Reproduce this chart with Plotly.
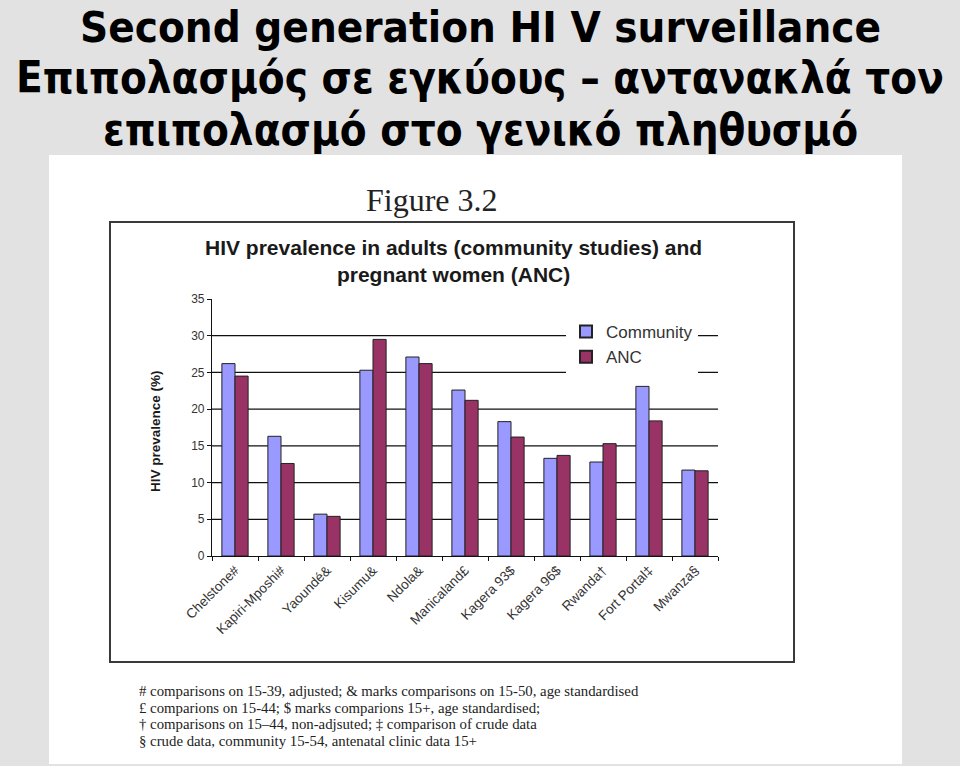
import plotly.graph_objects as go

# ---- data ----
sites = ["Chelstone#", "Kapiri-Mposhi#", "Yaoundé&", "Kisumu&", "Ndola&", "Manicaland£",
         "Kagera 93$", "Kagera 96$", "Rwanda†", "Fort Portal‡", "Mwanza§"]
community = [26.2, 16.3, 5.7, 25.3, 27.1, 22.6, 18.3, 13.3, 12.8, 23.1, 11.7]
anc = [24.5, 12.6, 5.4, 29.5, 26.2, 21.2, 16.2, 13.7, 15.3, 18.4, 11.6]
y_ticks = [0, 5, 10, 15, 20, 25, 30, 35]
grid_values = [5, 10, 15, 20, 25, 30]

W, H = 960, 766


def px(x):
    return x / W


def py(y):
    return 1 - y / H


fig = go.Figure()
fig.add_trace(go.Bar(name="Community", x=sites, y=community,
                     marker=dict(color="#9999FF", line=dict(color="#222222", width=1))))
fig.add_trace(go.Bar(name="ANC", x=sites, y=anc,
                     marker=dict(color="#993366", line=dict(color="#222222", width=1))))

shapes = [
    # white picture area
    dict(type="rect", xref="paper", yref="paper", x0=px(49), x1=px(902), y0=py(764), y1=py(155),
         fillcolor="white", line=dict(width=0), layer="below"),
    # chart frame
    dict(type="rect", xref="paper", yref="paper", x0=px(110), x1=px(794), y0=py(662), y1=py(222),
         fillcolor="rgba(0,0,0,0)", line=dict(color="#3a3a3a", width=2), layer="below"),
]
for g in grid_values:
    shapes.append(dict(type="line", xref="paper", yref="y", x0=px(212), x1=px(718), y0=g, y1=g,
                       line=dict(color="#111111", width=1.2), layer="below"))

annotations = []
title_lines = ["Second generation HI V surveillance",
               "Επιπολασμός σε εγκύους – αντανακλά τον",
               "επιπολασμό στο γενικό πληθυσμό"]
title_y = [27, 78, 130]
for t, yy in zip(title_lines, title_y):
    annotations.append(dict(text=t, xref="paper", yref="paper", x=0.5, y=py(yy),
                            xanchor="center", yanchor="middle", showarrow=False,
                            font=dict(family="DejaVu Sans Condensed, Liberation Sans Narrow, Liberation Sans",
                                      size=43.5, color="#000000", weight="bold")))
annotations.append(dict(text="Figure 3.2", xref="paper", yref="paper", x=px(432), y=py(200),
                        xanchor="center", yanchor="middle", showarrow=False,
                        font=dict(family="Liberation Serif, Times New Roman", size=32, color="#222222")))
annotations.append(dict(text="HIV prevalence in adults (community studies) and<br>pregnant women (ANC)",
                        xref="paper", yref="paper", x=px(453), y=py(261),
                        xanchor="center", yanchor="middle", showarrow=False,
                        font=dict(family="Liberation Sans, Arial", size=21, color="#1a1a1a", weight="bold")))
annotations.append(dict(text="HIV prevalence (%)", xref="paper", yref="paper", x=px(155), y=py(431),
                        xanchor="center", yanchor="middle", showarrow=False, textangle=-90,
                        font=dict(family="Liberation Sans, Arial", size=13.5, color="#1a1a1a", weight="bold")))
notes = ["# comparisons on 15-39, adjusted; & marks comparisons on 15-50, age standardised",
         "£ comparions on 15-44; $ marks comparions 15+, age standardised;",
         "† comparisons on 15–44, non-adjsuted; ‡ comparison of crude data",
         "§ crude data, community 15-54, antenatal clinic data 15+"]
for i, t in enumerate(notes):
    annotations.append(dict(text=t, xref="paper", yref="paper", x=px(137), y=py(691 + 16.6 * i),
                            xanchor="left", yanchor="middle", showarrow=False,
                            font=dict(family="Liberation Serif, Times New Roman", size=14.8, color="#222222")))

fig.update_layout(
    width=W, height=H,
    margin=dict(l=0, r=0, t=0, b=0, autoexpand=False),
    paper_bgcolor="#e2e2e2",
    plot_bgcolor="rgba(0,0,0,0)",
    barmode="group", bargap=0.43, bargroupgap=0,
    showlegend=True,
    legend=dict(x=px(566), y=py(314), xanchor="left", yanchor="top",
                bgcolor="white", borderwidth=0,
                font=dict(family="Liberation Sans, Arial", size=17, color="#333333"),
                itemsizing="constant", tracegroupgap=0),
    xaxis=dict(domain=[px(212), px(718)], automargin=False, showgrid=False, showline=True,
               linecolor="#111111", linewidth=1.2, ticks="outside", tickson="boundaries", ticklen=4,
               tickcolor="#111111", tickangle=-45,
               tickfont=dict(family="Liberation Sans, Arial", size=13.5, color="#333333")),
    yaxis=dict(domain=[py(556), py(299)], automargin=False, range=[0, 35], tickvals=y_ticks,
               showgrid=False, zeroline=False, showline=True, linecolor="#111111", linewidth=1.2,
               ticks="outside", ticklen=4, tickcolor="#111111",
               tickfont=dict(family="Liberation Sans, Arial", size=12, color="#333333")),
    shapes=shapes,
    annotations=annotations,
)

fig.write_html("out.html")
